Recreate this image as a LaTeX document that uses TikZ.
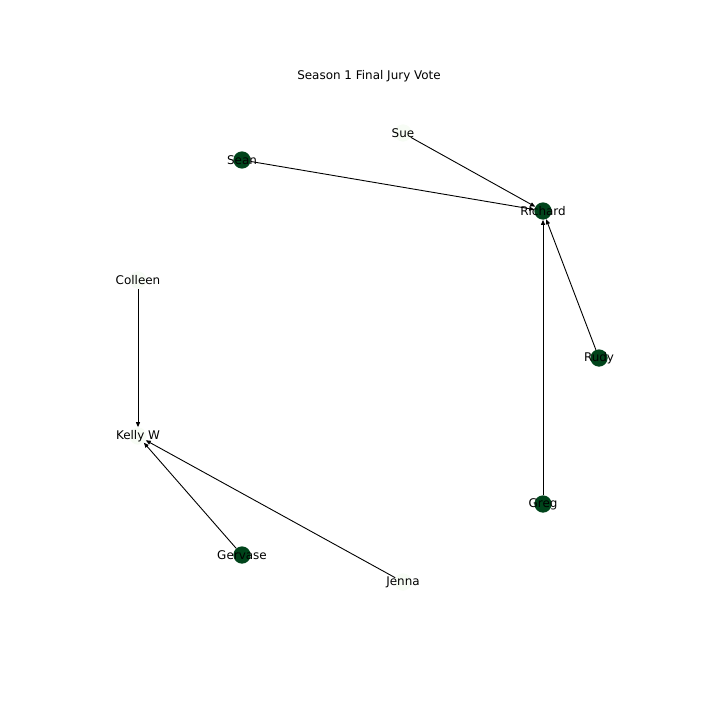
\documentclass[tikz,border=0pt]{standalone}
\usepackage{fontspec}
\setmainfont{DejaVu Sans}
\usetikzlibrary{arrows.meta}
\definecolor{darkgreen}{HTML}{00441B}
\definecolor{palegreen}{HTML}{F7FCF5}

\begin{document}
\begin{tikzpicture}[x=1bp,y=-1bp, ele/.style={circle,minimum size=17.3bp,inner sep=0pt},on/.style={ele,fill=darkgreen},off/.style={ele,fill=palegreen},lbl/.style={font=\fontsize{12}{14}\selectfont,inner sep=0pt},vote/.style={-{Triangle[length=5bp,width=4bp]},line width=0.9bp}]
              \useasboundingbox (0,0) rectangle (720,720);
              \node[lbl] (title) at (369,76) {Season 1 Final Jury Vote};

              \node[off] (sue) at (403,133) {};
              \node[on] (sean) at (242,160) {};
              \node[on] (richard) at (543,211) {};
              \node[off] (colleen) at (138,280) {};
              \node[on] (rudy) at (599,358) {};
              \node[off] (kelly) at (138,436) {};
              \node[on] (greg) at (543,504) {};
              \node[on] (gervase) at (242,555) {};
              \node[off] (jenna) at (403,582) {};

              \draw[vote] (sue) -- (richard);
              \draw[vote] (sean) -- (richard);
              \draw[vote] (rudy) -- (richard);
              \draw[vote] (greg) -- (richard);
              \draw[vote] (colleen) -- (kelly);
              \draw[vote] (gervase) -- (kelly);
              \draw[vote] (jenna) -- (kelly);

              \node[lbl] at (sue) {Sue};
              \node[lbl] at (sean) {Sean};
              \node[lbl] at (richard) {Richard};
              \node[lbl] at (colleen) {Colleen};
              \node[lbl] at (rudy) {Rudy};
              \node[lbl] at (kelly) {Kelly W};
              \node[lbl] at (greg) {Greg};
              \node[lbl] at (gervase) {Gervase};
              \node[lbl] at (jenna) {Jenna};
            \end{tikzpicture}
\end{document}
